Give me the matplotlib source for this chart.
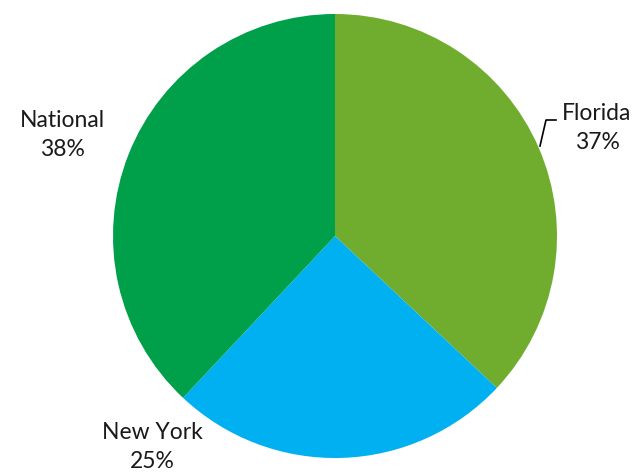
import matplotlib
matplotlib.use('Agg')
from matplotlib import pyplot as plt

labels = ['Florida', 'New York', 'National']
values = [37, 25, 38]
colors = ['#70AD2F', '#00B0F0', '#00A04A']

plt.rcParams['font.family'] = ['Lato', 'DejaVu Sans']

W, H = 638, 474
fig = plt.figure(figsize=(W / 100, H / 100), dpi=100)
ax = fig.add_axes([0, 0, 1, 1])

cx, cy, r = 335, H - 236, 222
ax.pie(values, colors=colors, startangle=90, counterclock=False,
	center=(cx, cy), radius=r, frame=True,
	wedgeprops=dict(linewidth=0))
ax.set_xlim(0, W)
ax.set_ylim(0, H)
ax.set_aspect('equal')
ax.axis('off')

# label positions (pixel coords from top-left)
label_pos = {'Florida': (597, 128), 'New York': (152, 447), 'National': (62, 135)}
for lab, v in zip(labels, values):
	x, y = label_pos[lab]
	ax.text(x, H - y, '%s\n%d%%' % (lab, v), ha='center', va='center',
		fontsize=16.5, color='#1a1a1a', linespacing=1.45)

# leader line for Florida
ax.plot([540, 546, 556], [H - 146, H - 120, H - 120], color='black', lw=1.2)

fig.savefig('out.png', dpi=100)
